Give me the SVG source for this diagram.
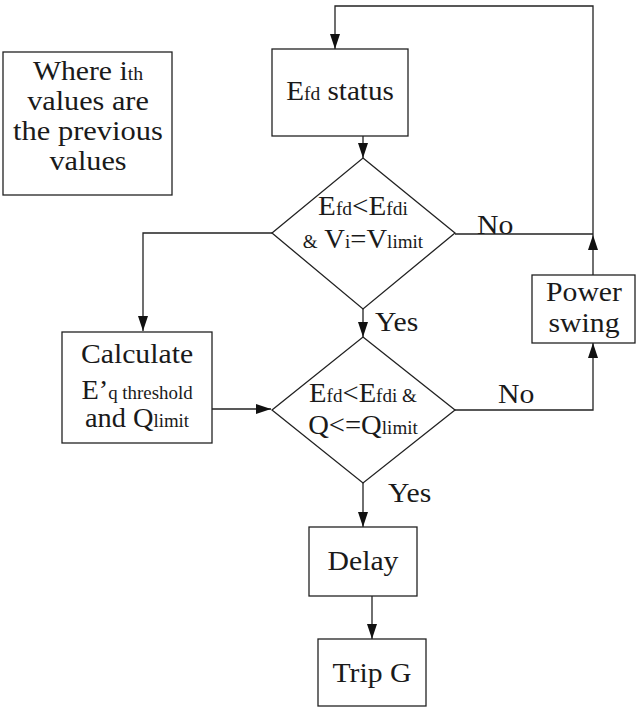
<svg xmlns="http://www.w3.org/2000/svg" width="636" height="708" viewBox="0 0 636 708">
<style>
.box{fill:#fff;stroke:#222;stroke-width:1.3}
text{font-family:'Liberation Serif','DejaVu Serif',serif;font-size:27px;fill:#1a1a1a}
.t{text-anchor:middle}
.s{font-size:18px}
.c{fill:none;stroke:#222;stroke-width:1.3}
</style>
<defs>
<marker id="ah" markerUnits="userSpaceOnUse" markerWidth="16" markerHeight="12" refX="15" refY="5" orient="auto">
<path d="M0,0 L15,5 L0,10 z" fill="#111"/>
</marker>
</defs>
<rect width="636" height="708" fill="#fff"/>
<g id="connectors">
<polyline class="c" points="593,235 593,6 335,6 335,49" marker-end="url(#ah)"/>
<line class="c" x1="363" y1="136" x2="363" y2="158" marker-end="url(#ah)"/>
<polyline class="c" points="272,233 143,233 143,331" marker-end="url(#ah)"/>
<line class="c" x1="455" y1="234" x2="593" y2="234"/>
<line class="c" x1="593" y1="275" x2="593" y2="235" marker-end="url(#ah)"/>
<line class="c" x1="363" y1="309" x2="363" y2="337" marker-end="url(#ah)"/>
<line class="c" x1="212" y1="409" x2="271" y2="409" marker-end="url(#ah)"/>
<polyline class="c" points="455,410 593,410 593,343" marker-end="url(#ah)"/>
<line class="c" x1="363" y1="483" x2="363" y2="527" marker-end="url(#ah)"/>
<line class="c" x1="372" y1="596" x2="372" y2="639" marker-end="url(#ah)"/>
<text transform="translate(477,234) scale(1.1,1)">No</text>
<text transform="translate(498,403) scale(1.1,1)">No</text>
<text transform="translate(375,331) scale(1.1,1)">Yes</text>
<text transform="translate(388,502) scale(1.1,1)">Yes</text>
</g>
<g id="note">
<rect class="box" x="3" y="52" width="169" height="143"/>
<text class="t" transform="translate(88,80) scale(1.1,1)">Where i<tspan class="s">th</tspan></text>
<text class="t" transform="translate(88,110) scale(1.12,1)">values are</text>
<text class="t" transform="translate(88,140) scale(1.13,1)">the previous</text>
<text class="t" transform="translate(88,170) scale(1.12,1)">values</text>
</g>
<g id="efd-status">
<rect class="box" x="272" y="49" width="136" height="87"/>
<text class="t" transform="translate(340,100) scale(1.08,1)">E<tspan class="s">fd</tspan> status</text>
</g>
<g id="decision1">
<polygon class="box" points="363,158 455,233 363,309 272,233"/>
<text class="t" transform="translate(363,215) scale(1.08,1)">E<tspan class="s">fd</tspan>&lt;E<tspan class="s">fdi</tspan></text>
<text class="t" transform="translate(363,248) scale(1.06,1)"><tspan class="s">&amp;</tspan> V<tspan class="s">i</tspan>=V<tspan class="s">limit</tspan></text>
</g>
<g id="calculate">
<rect class="box" x="62" y="332" width="150" height="111"/>
<text class="t" transform="translate(137,363) scale(1.1,1)">Calculate</text>
<text class="t" transform="translate(137,399) scale(1.05,1)">E’<tspan class="s">q threshold</tspan></text>
<text class="t" transform="translate(137,427) scale(1.05,1)">and Q<tspan class="s">limit</tspan></text>
</g>
<g id="decision2">
<polygon class="box" points="363,337 455,410 363,483 272,410"/>
<text class="t" transform="translate(363,402) scale(1.06,1)">E<tspan class="s">fd</tspan>&lt;E<tspan class="s">fdi &amp;</tspan></text>
<text class="t" transform="translate(363,434) scale(1.06,1)">Q&lt;=Q<tspan class="s">limit</tspan></text>
</g>
<g id="power-swing">
<rect class="box" x="532" y="275" width="103" height="68"/>
<text class="t" transform="translate(584,301) scale(1.1,1)">Power</text>
<text class="t" transform="translate(584,332) scale(1.1,1)">swing</text>
</g>
<g id="delay">
<rect class="box" x="309" y="527" width="108" height="69"/>
<text class="t" transform="translate(363,570) scale(1.1,1)">Delay</text>
</g>
<g id="trip">
<rect class="box" x="318" y="639" width="108" height="67"/>
<text class="t" transform="translate(372,682) scale(1.1,1)">Trip G</text>
</g>
</svg>
